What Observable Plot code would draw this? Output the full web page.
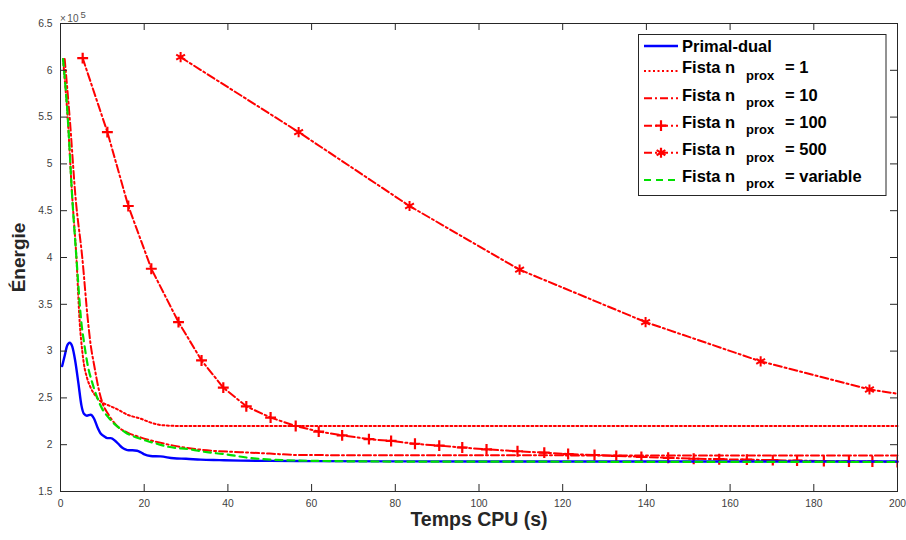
<!DOCTYPE html>
<html><head><meta charset="utf-8">
<script src="https://cdn.jsdelivr.net/npm/d3@7"></script>
<script src="https://cdn.jsdelivr.net/npm/@observablehq/plot@0.6"></script>
<style>
body{margin:0;background:#fff;}
#chart{width:906px;height:540px;}
</style></head><body><div id="chart"></div>
<script>
// values in units of 1e5
const xTicks = [0,20,40,60,80,100,120,140,160,180,200];
const yTicks = [1.5,2,2.5,3,3.5,4,4.5,5,5.5,6,6.5];
const seriesNames = ["Primal-dual","= 1","= 10","= 100","= 500","= variable"];

const pdT = [0.4,1.0,1.6,2.2,2.8,3.5,4.3,5.0,5.6,6.3,7.2,8.0,8.8,9.6,10.4,11.2,12.0,13.1,14.0,14.7,15.5,16.3,17.2,18.3,19.1,19.9,21.5,23.9,27.1,30.0,33.5,38,43,50,60,80,100,140,200];
const pdE = [2.84,2.95,3.06,3.09,3.05,2.90,2.65,2.42,2.33,2.31,2.32,2.28,2.19,2.12,2.09,2.07,2.07,2.04,2.00,1.97,1.95,1.94,1.94,1.935,1.92,1.90,1.88,1.875,1.855,1.85,1.84,1.835,1.83,1.827,1.825,1.822,1.82,1.82,1.82];

const f1T = [0.6,1.7,2.8,3.8,4.6,5.2,5.6,6.3,7.2,8.4,10.0,11.5,13.5,16.0,19.0,22.0,24.0,28.7,40,200];
const f1E = [6.12,5.50,4.65,4.00,3.30,3.00,2.86,2.72,2.61,2.52,2.45,2.42,2.38,2.32,2.28,2.23,2.21,2.20,2.20,2.20];

const f10T = [1.0,2.2,3.6,5.2,6.5,7.2,8.0,9.2,10.0,11.5,13.5,16.0,19.0,23.0,27.0,35.0,43.0,50.0,57.0,80,200];
const f10E = [6.12,5.49,4.64,4.00,3.35,3.07,2.86,2.58,2.45,2.32,2.20,2.13,2.08,2.03,1.99,1.94,1.92,1.905,1.89,1.887,1.885];

const f100T = [5.3,11.2,16.2,21.7,28.2,33.7,38.9,44.4,50.2,56.2,61.7,67.3,73.7,79.0,84.7,90.5,96.0,101.8,109.2,115.6,121.3,127.6,132.8,138.8,145.2,151.3,157.4,164.0,170.2,176.0,182.4,188.4,194.0,200.0];
const f100E = [6.13,5.34,4.55,3.88,3.31,2.90,2.61,2.41,2.29,2.20,2.14,2.10,2.06,2.04,2.01,1.99,1.97,1.95,1.93,1.915,1.90,1.89,1.88,1.87,1.86,1.85,1.845,1.84,1.835,1.83,1.825,1.82,1.82,1.815];

const f500T = [28.7,56.9,83.4,109.7,139.8,167.3,193.3,220.0];
const f500E = [6.14,5.34,4.55,3.87,3.31,2.89,2.59,2.41];

const fvT = [0.6,1.75,2.8,3.8,5.0,5.6,6.5,7.6,8.8,10.0,11.3,12.7,14.3,15.9,18.0,20.7,23.0,25.5,31.0,35.0,39.0,45.0,57.0,80,120,200];
const fvE = [6.12,5.49,4.64,4.00,3.30,3.10,2.85,2.66,2.50,2.38,2.30,2.23,2.17,2.12,2.08,2.04,2.01,1.98,1.95,1.92,1.90,1.86,1.83,1.82,1.818,1.815];

const SCALE = 1e5;
const toRows = (T, E) => T.map((t, i) => ({t, e: E[i] * SCALE}));

const RED = "#ff0000", BLUE = "#0000ff", GREEN = "#00e000";
const AX = "#262626";
const FONT = "'Liberation Sans', Arial, sans-serif";
const W = 906, H = 540, ML = 60, MR = 9, MT = 23, MB = 49;
const PW = W - ML - MR, PH = H - MT - MB;
const TL = 7;

const plot = Plot.plot({
  width: W, height: H,
  marginLeft: ML, marginRight: MR, marginTop: MT, marginBottom: MB,
  style: {fontFamily: FONT, fontSize: "10.3px", color: "#404040", background: "#fff", overflow: "visible"},
  x: {domain: [0, 200]},
  y: {domain: [1.5 * SCALE, 6.5 * SCALE]},
  marks: [
    Plot.line(toRows(f500T, f500E), {x: "t", y: "e", stroke: RED, strokeWidth: 2, strokeDasharray: "8,3,2,3", clip: true}),
    Plot.dot(toRows(f500T, f500E), {x: "t", y: "e", stroke: RED, strokeWidth: 2, symbol: "asterisk", r: 4.8, clip: true}),
    Plot.line(toRows(f1T, f1E), {x: "t", y: "e", stroke: RED, strokeWidth: 2, strokeDasharray: "2,2.5", curve: "monotone-x"}),
    Plot.line(toRows(f10T, f10E), {x: "t", y: "e", stroke: RED, strokeWidth: 2, strokeDasharray: "8,3,2,3", curve: "monotone-x"}),
    Plot.line(toRows(f100T, f100E), {x: "t", y: "e", stroke: RED, strokeWidth: 2, strokeDasharray: "8,3,2,3"}),
    Plot.dot(toRows(f100T, f100E), {x: "t", y: "e", stroke: RED, strokeWidth: 2.2, symbol: "plus", r: 3.6, clip: true}),
    Plot.line(toRows(pdT, pdE), {x: "t", y: "e", stroke: BLUE, strokeWidth: 2.4, curve: "monotone-x"}),
    Plot.line(toRows(fvT, fvE), {x: "t", y: "e", stroke: GREEN, strokeWidth: 2.2, strokeDasharray: "7,5", curve: "monotone-x"}),
    Plot.frame({stroke: AX, strokeWidth: 1}),
    Plot.ruleX(xTicks, {x: d => d, stroke: AX, insetTop: PH - TL}),
    Plot.ruleX(xTicks, {x: d => d, stroke: AX, insetBottom: PH - TL}),
    Plot.ruleY(yTicks, {y: d => d * SCALE, stroke: AX, insetRight: PW - TL}),
    Plot.ruleY(yTicks, {y: d => d * SCALE, stroke: AX, insetLeft: PW - TL}),
    Plot.axisX({ticks: xTicks, tickSize: 0, tickPadding: 8, label: null, tickFormat: d => String(d)}),
    Plot.axisY({ticks: yTicks.map(d => d * SCALE), tickSize: 0, tickPadding: 8, label: null, tickFormat: d => String(+(d / SCALE).toFixed(1))}),
    Plot.text(["Temps CPU (s)"], {frameAnchor: "bottom", dy: 34, fontSize: 19.5, fontWeight: "bold", fill: "#262626", textAnchor: "middle"}),
    Plot.text(["Énergie"], {frameAnchor: "left", dx: -42, rotate: -90, fontSize: 19, fontWeight: "bold", fill: "#262626", textAnchor: "middle"})
  ]
});
document.getElementById("chart").appendChild(plot);

const svg = d3.select(plot);
// exponent label
const ex = svg.append("text").attr("x", ML).attr("y", 21.5).attr("fill", "#555").attr("font-size", 10)
  .attr("text-anchor", "start").attr("font-family", FONT);
ex.append("tspan").text("×");
ex.append("tspan").attr("dx", 1.5).text("10");
ex.append("tspan").attr("font-size", 9.5).attr("dy", -4).attr("dx", 2).text("5");

// legend
const lg = svg.append("g").attr("font-family", FONT).attr("font-weight", "bold").attr("fill", "#000").attr("text-anchor", "start");
lg.append("rect").attr("x", 638.5).attr("y", 34.5).attr("width", 247.5).attr("height", 161).attr("fill", "#fff").attr("stroke", AX).attr("stroke-width", 1);
const rows = [
  {name: seriesNames[0], ly: 46, by: 51.7, stroke: BLUE, dash: null, sym: null, sw: 2.4},
  {name: seriesNames[1], ly: 71, by: 73.3, stroke: RED, dash: "2,2.5", sym: null, sw: 2},
  {name: seriesNames[2], ly: 98.3, by: 100.7, stroke: RED, dash: "8,3,2,3", sym: null, sw: 2},
  {name: seriesNames[3], ly: 125.7, by: 127.7, stroke: RED, dash: "8,3,2,3", sym: d3.symbolPlus, size: 40, sw: 2},
  {name: seriesNames[4], ly: 152.7, by: 155, stroke: RED, dash: "8,3,2,3", sym: d3.symbolAsterisk, size: 72, sw: 2},
  {name: seriesNames[5], ly: 180, by: 181.7, stroke: GREEN, dash: "7,5", sym: null, sw: 2.2}
];
rows.forEach((r, i) => {
  lg.append("line").attr("x1", 644).attr("x2", 678).attr("y1", r.ly).attr("y2", r.ly)
    .attr("stroke", r.stroke).attr("stroke-width", r.sw).attr("stroke-dasharray", r.dash);
  if (r.sym) {
    lg.append("path").attr("transform", `translate(661,${r.ly})`).attr("d", d3.symbol(r.sym, r.size)())
      .attr("fill", "none").attr("stroke", r.stroke).attr("stroke-width", 2.2);
  }
  if (i === 0) {
    lg.append("text").attr("x", 682).attr("y", r.by).attr("font-size", 16.5).text(r.name);
  } else {
    lg.append("text").attr("x", 682).attr("y", r.by).attr("font-size", 16.5).text("Fista n");
    lg.append("text").attr("x", 746).attr("y", r.by + 6.5).attr("font-size", 13).text("prox");
    lg.append("text").attr("x", 785).attr("y", r.by).attr("font-size", 16.5).text(r.name);
  }
});
</script></body></html>
